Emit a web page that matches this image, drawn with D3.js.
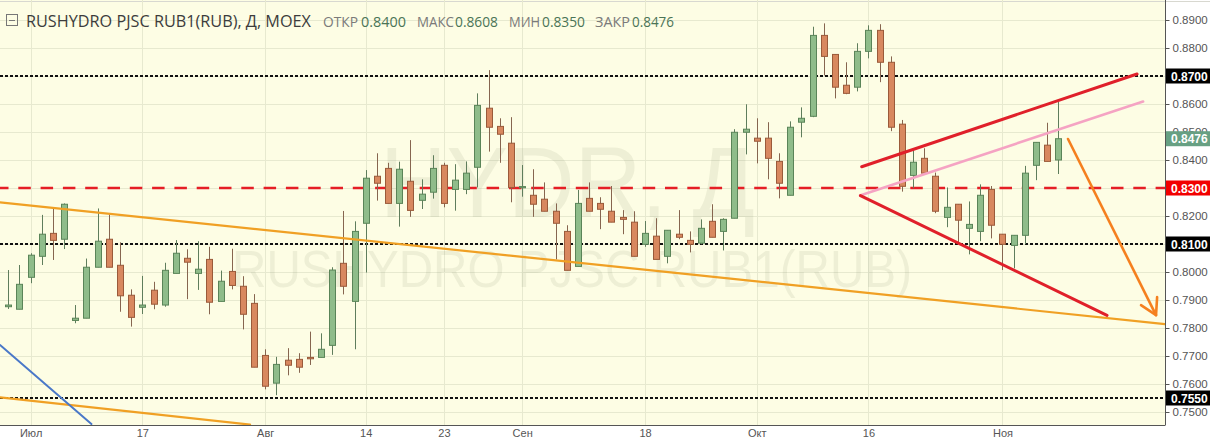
<!DOCTYPE html>
<html><head><meta charset="utf-8">
<script src="https://cdn.jsdelivr.net/npm/d3@7"></script>
<style>body{margin:0;background:#fff;overflow:hidden}</style>
</head><body><svg id="c" width="1210" height="439"></svg>
<script>
// ---- data ----
const OPEN  = [0.7876,0.7867,0.7981,0.8056,0.8138,0.8117,0.7827,0.7835,0.8017,0.8117,
               0.8024,0.7917,0.7874,0.7935,0.7882,0.7995,0.8049,0.7995,0.8045,0.7895,
               0.8002,0.7949,0.7888,0.7702,0.7603,0.7685,0.7688,0.7695,0.7695,0.7738,
               0.8031,0.7895,0.8174,0.8342,0.8370,0.8245,0.8324,0.8256,0.8285,0.8381,
               0.8295,0.8295,0.8374,0.8585,0.8520,0.8460,0.8302,0.8274,0.8260,0.8217,
               0.8145,0.8020,0.8263,0.8245,0.8217,0.8195,0.8178,0.8099,0.8128,0.8056,
               0.8135,0.8113,0.8103,0.8181,0.8145,0.8192,0.8499,0.8478,0.8478,0.8395,
               0.8274,0.8535,0.8556,0.8845,0.8777,0.8667,0.8660,0.8788,0.8863,0.8749,
               0.8528,0.8345,0.8406,0.8342,0.8195,0.8242,0.8156,0.8145,0.8295,0.8135,
               0.8095,0.8131,0.8381,0.8453,0.8400];
const HIGH  = [0.8007,0.8025,0.8067,0.8204,0.8227,0.8245,0.7882,0.8048,0.8227,0.8207,
               0.8106,0.7938,0.7986,0.7965,0.8033,0.8114,0.8081,0.8110,0.8090,0.8005,
               0.8083,0.7985,0.7921,0.7724,0.7697,0.7728,0.7710,0.7787,0.7781,0.8017,
               0.8218,0.8181,0.8364,0.8424,0.8390,0.8394,0.8471,0.8331,0.8417,0.8390,
               0.8385,0.8395,0.8638,0.8721,0.8549,0.8553,0.8382,0.8367,0.8320,0.8245,
               0.8167,0.8293,0.8320,0.8267,0.8307,0.8221,0.8217,0.8182,0.8192,0.8149,
               0.8221,0.8145,0.8188,0.8242,0.8192,0.8510,0.8599,0.8549,0.8535,0.8424,
               0.8538,0.8588,0.8876,0.8888,0.8777,0.8749,0.8817,0.8881,0.8885,0.8770,
               0.8543,0.8436,0.8442,0.8355,0.8302,0.8242,0.8252,0.8313,0.8307,0.8135,
               0.8131,0.8379,0.8463,0.8533,0.8608];
const LOW   = [0.7868,0.7867,0.7960,0.8025,0.8043,0.8082,0.7817,0.7835,0.8017,0.8017,
               0.7858,0.7805,0.7850,0.7867,0.7876,0.7995,0.7903,0.7936,0.7849,0.7895,
               0.7938,0.7795,0.7660,0.7581,0.7560,0.7631,0.7640,0.7668,0.7695,0.7704,
               0.7920,0.7724,0.7998,0.8255,0.8245,0.8162,0.8197,0.8225,0.8262,0.8231,
               0.8219,0.8278,0.8302,0.8430,0.8390,0.8249,0.8269,0.8197,0.8217,0.8045,
               0.8006,0.8020,0.8217,0.8153,0.8178,0.8135,0.8056,0.8090,0.8045,0.8031,
               0.8117,0.8070,0.8099,0.8124,0.8077,0.8192,0.8420,0.8388,0.8331,0.8263,
               0.8274,0.8481,0.8553,0.8702,0.8620,0.8635,0.8645,0.8763,0.8678,0.8503,
               0.8287,0.8299,0.8353,0.8210,0.8160,0.8103,0.8063,0.8110,0.8120,0.8007,
               0.8013,0.8099,0.8328,0.8395,0.8350];
const CLOSE = [0.7882,0.7956,0.8060,0.8135,0.8113,0.8242,0.7835,0.8017,0.8110,0.8017,
               0.7915,0.7838,0.7882,0.7885,0.8006,0.8067,0.8035,0.8010,0.7892,0.7967,
               0.7952,0.7849,0.7660,0.7592,0.7670,0.7667,0.7660,0.7690,0.7724,0.8007,
               0.7949,0.8145,0.8335,0.8317,0.8245,0.8367,0.8220,0.8278,0.8370,0.8245,
               0.8328,0.8353,0.8595,0.8517,0.8492,0.8302,0.8305,0.8242,0.8217,0.8174,
               0.8006,0.8245,0.8217,0.8224,0.8178,0.8188,0.8056,0.8138,0.8045,0.8149,
               0.8124,0.8099,0.8156,0.8124,0.8188,0.8499,0.8510,0.8467,0.8406,0.8317,
               0.8517,0.8549,0.8845,0.8770,0.8660,0.8638,0.8788,0.8863,0.8749,0.8517,
               0.8306,0.8392,0.8353,0.8217,0.8231,0.8185,0.8170,0.8274,0.8167,0.8099,
               0.8131,0.8353,0.8463,0.8395,0.8476];

const X_TICK_INDEX  = [2, 12, 23, 32, 39, 46, 57, 67, 77, 89];
const X_TICK_LABELS = ["Июл","17","Авг","14","23","Сен","18","Окт","16","Ноя"];
const Y_TICKS = [0.75,0.76,0.77,0.78,0.79,0.80,0.81,0.82,0.83,0.84,0.85,0.86,0.87,0.88,0.89];

const LEVEL_VALUES = [0.8700, 0.8300, 0.8100, 0.7550];

// trend lines in (bar index, price)
const TREND_ORANGE_UPPER = [[-0.74, 0.8249], [103.55, 0.7814]];
const TREND_ORANGE_LOWER = [[-0.74, 0.7552], [21.64, 0.7455]];
const TREND_BLUE         = [[-0.74, 0.7739], [7.44, 0.7457]];
const TREND_RED_TOP      = [[76.40, 0.8376], [101.05, 0.8707]];
const TREND_RED_BOTTOM   = [[76.29, 0.8273], [98.36, 0.7845]];
const TREND_PINK         = [[76.25, 0.8273], [101.59, 0.8609]];
const ARROW_ORANGE       = [[94.87, 0.8475], [102.75, 0.7846]];

const TITLE = "RUSHYDRO PJSC RUB1(RUB), Д, MOEX";
const OHLC_LABELS = ["ОТКР","МАКС","МИН","ЗАКР"];
const OHLC_VALUES = ["0.8400","0.8608","0.8350","0.8476"];
const WATERMARK_1 = "HYDR, Д";
const WATERMARK_2 = "RUSHYDRO PJSC RUB1(RUB)";

// ---- layout ----
const W = 1210, H = 439;
const PL = 0, PR = 1165, PT = 0, PB = 425;
const svg = d3.select("#c");

const x = d3.scaleLinear().domain([0, OPEN.length - 1]).range([8.3, 1058.3]);
const y = d3.scaleLinear().domain([0.87 - 349/2800, 0.87 + 76/2800]).range([PB, PT]);

svg.append("defs").append("clipPath").attr("id","plotclip")
  .append("rect").attr("x",PL).attr("y",PT).attr("width",PR-PL).attr("height",PB-PT);

// background
svg.append("rect").attr("x",0).attr("y",0).attr("width",W).attr("height",H).attr("fill","#ffffff");
svg.append("rect").attr("x",PL).attr("y",PT).attr("width",PR-PL).attr("height",PB-PT).attr("fill","#fdfde4");
svg.append("line").attr("x1",0).attr("x2",W).attr("y1",1.5).attr("y2",1.5).attr("stroke","#d8d8d0").attr("stroke-width",1);

// grid
const grid = svg.append("g").attr("clip-path","url(#plotclip)");
grid.selectAll("line.h").data(Y_TICKS).join("line")
  .attr("x1",PL).attr("x2",PR).attr("y1",d=>Math.round(y(d))+0.5).attr("y2",d=>Math.round(y(d))+0.5)
  .attr("stroke","#e7e9cf").attr("stroke-width",1);
grid.selectAll("line.v").data(X_TICK_INDEX).join("line")
  .attr("y1",PT).attr("y2",PB).attr("x1",d=>Math.round(x(d))+0.5).attr("x2",d=>Math.round(x(d))+0.5)
  .attr("stroke","#e7e9cf").attr("stroke-width",1);

// watermark
const wm = svg.append("g").attr("fill","rgba(90,95,70,0.09)").attr("font-family","'Liberation Sans', Arial, sans-serif");
wm.append("text").attr("x",380).attr("y",217).attr("font-size",100).attr("textLength",375).attr("lengthAdjust","spacingAndGlyphs").text(WATERMARK_1);
wm.append("text").attr("x",232).attr("y",287).attr("font-size",51).attr("textLength",680).attr("lengthAdjust","spacingAndGlyphs").text(WATERMARK_2);

// level lines
const levelStyle = [
  {stroke:"#111", dash:"3,2", w:2},
  {stroke:"#e51e25", dash:"12.5,9.8", w:2.5},
  {stroke:"#111", dash:"3,2", w:2},
  {stroke:"#111", dash:"3,2", w:2}
];
const lv = svg.append("g").attr("clip-path","url(#plotclip)");
LEVEL_VALUES.forEach((v,k)=>{
  lv.append("line").attr("x1",PL).attr("x2",PR).attr("y1",y(v)).attr("y2",y(v))
    .attr("stroke",levelStyle[k].stroke).attr("stroke-width",levelStyle[k].w)
    .attr("stroke-dasharray",levelStyle[k].dash).attr("stroke-dashoffset", k===1?4:0);
});

// candles
const bars = d3.range(OPEN.length).map(i=>({i,o:OPEN[i],h:HIGH[i],l:LOW[i],c:CLOSE[i]}));
const cg = svg.append("g").attr("clip-path","url(#plotclip)");
const BW = 7;
cg.selectAll("line.wick").data(bars).join("line")
  .attr("x1",d=>Math.round(x(d.i))+0.5).attr("x2",d=>Math.round(x(d.i))+0.5)
  .attr("y1",d=>y(d.h)).attr("y2",d=>y(d.l))
  .attr("stroke",d=>d.c>=d.o?"#5f7d5c":"#86654f").attr("stroke-width",1);
cg.selectAll("rect.body").data(bars).join("rect")
  .attr("x",d=>Math.round(x(d.i))-3+0.5).attr("width",BW-1)
  .attr("y",d=>y(Math.max(d.o,d.c))).attr("height",d=>Math.max(1.2,Math.abs(y(d.o)-y(d.c))))
  .attr("fill",d=>d.c>=d.o?"#8fbc8a":"#d8885f")
  .attr("stroke",d=>d.c>=d.o?"#5a8458":"#9a5a3a").attr("stroke-width",1);

// trend lines
const tl = svg.append("g").attr("clip-path","url(#plotclip)").attr("fill","none").attr("stroke-linecap","round");
const line = d3.line().x(d=>x(d[0])).y(d=>y(d[1]));
tl.append("path").datum(TREND_ORANGE_UPPER).attr("d",line).attr("stroke","#f0a024").attr("stroke-width",2.2);
tl.append("path").datum(TREND_ORANGE_LOWER).attr("d",line).attr("stroke","#f0a024").attr("stroke-width",2.2);
tl.append("path").datum(TREND_BLUE).attr("d",line).attr("stroke","#4a78c8").attr("stroke-width",2);
tl.append("path").datum(TREND_PINK).attr("d",line).attr("stroke","#f5a3c3").attr("stroke-width",2.6);
tl.append("path").datum(TREND_RED_TOP).attr("d",line).attr("stroke","#e0202a").attr("stroke-width",3);
tl.append("path").datum(TREND_RED_BOTTOM).attr("d",line).attr("stroke","#e0202a").attr("stroke-width",3);
tl.append("path").datum(ARROW_ORANGE).attr("d",line).attr("stroke","#f5801f").attr("stroke-width",2.6);
// arrow head derived from the arrow line direction
{
  const [a,b] = ARROW_ORANGE;
  const x0=x(a[0]), y0=y(a[1]), x1=x(b[0]), y1=y(b[1]);
  const ang = Math.atan2(y1-y0, x1-x0) + Math.PI;
  const L = 18, sp = Math.PI/6;
  const p1 = [x1+L*Math.cos(ang+sp), y1+L*Math.sin(ang+sp)];
  const p2 = [x1+L*Math.cos(ang-sp), y1+L*Math.sin(ang-sp)];
  tl.append("path").attr("d",`M${p1[0]},${p1[1]}L${x1},${y1}L${p2[0]},${p2[1]}`)
    .attr("stroke","#f5801f").attr("stroke-width",2.6).attr("stroke-linejoin","round");
}

// axes frame
svg.append("line").attr("x1",PL).attr("x2",PR).attr("y1",PB+0.5).attr("y2",PB+0.5).attr("stroke","#555").attr("stroke-width",1);

const yAxis = d3.axisRight(y).tickValues(Y_TICKS).tickFormat(d3.format(".4f")).tickSize(4).tickSizeOuter(0).tickPadding(3);
const ya = svg.append("g").attr("transform",`translate(${PR+0.5},0)`).call(yAxis);
ya.select(".domain").attr("stroke","#555").attr("d",`M0,${PT}V${PB+0.5}`);
ya.selectAll(".tick line").attr("stroke","#555");
ya.selectAll(".tick text").attr("fill","#555").attr("font-size",11.5).attr("font-family","'Liberation Sans', Arial, sans-serif");

const xAxis = d3.axisBottom(x).tickValues(X_TICK_INDEX).tickFormat((d,k)=>X_TICK_LABELS[k]).tickSize(0).tickPadding(4);
const xa = svg.append("g").attr("transform",`translate(0,${PB})`).call(xAxis);
xa.select(".domain").remove();
xa.selectAll(".tick text").attr("fill","#555").attr("font-size",11).attr("font-family","'Liberation Sans', Arial, sans-serif");

// price labels on right
const boxColors = ["#000","#f20000","#000","#000"];
const pl = svg.append("g").attr("font-family","'Liberation Sans', Arial, sans-serif").attr("font-size",12).attr("font-weight","bold");
function priceLabel(v, fill){
  pl.append("rect").attr("x",PR+1).attr("y",y(v)-7.5).attr("width",W-PR-1).attr("height",15).attr("fill",fill);
  pl.append("text").attr("x",PR+6).attr("y",y(v)+4.5).attr("fill","#fff").text(d3.format(".4f")(v));
}
LEVEL_VALUES.forEach((v,k)=>priceLabel(v, boxColors[k]));
priceLabel(CLOSE[CLOSE.length-1], "#67a083");

// title
const tg = svg.append("g").attr("font-family","'Open Sans', 'DejaVu Sans', sans-serif");
tg.append("rect").attr("x",6.5).attr("y",14.5).attr("width",11).attr("height",11).attr("fill","none").attr("stroke","#777").attr("stroke-width",1);
tg.append("line").attr("x1",9).attr("x2",15).attr("y1",20.5).attr("y2",20.5).attr("stroke","#777");
tg.append("text").attr("x",26).attr("y",27).attr("font-size",15.5).attr("fill","#3c3c3c").attr("textLength",285).attr("lengthAdjust","spacingAndGlyphs").text(TITLE);
const labX = [323, 417, 509, 595], labW = [35, 37, 31, 35];
const valX = [361, 455, 542, 632], valW = [45, 43, 43, 42];
OHLC_LABELS.forEach((t,k)=>{
  tg.append("text").attr("x",labX[k]).attr("y",27).attr("font-size",14).attr("fill","#7a7a7a").attr("textLength",labW[k]).attr("lengthAdjust","spacingAndGlyphs").text(t);
  tg.append("text").attr("x",valX[k]).attr("y",27).attr("font-size",14).attr("fill","#4a7456").attr("textLength",valW[k]).attr("lengthAdjust","spacingAndGlyphs").text(OHLC_VALUES[k]);
});
</script></body></html>
